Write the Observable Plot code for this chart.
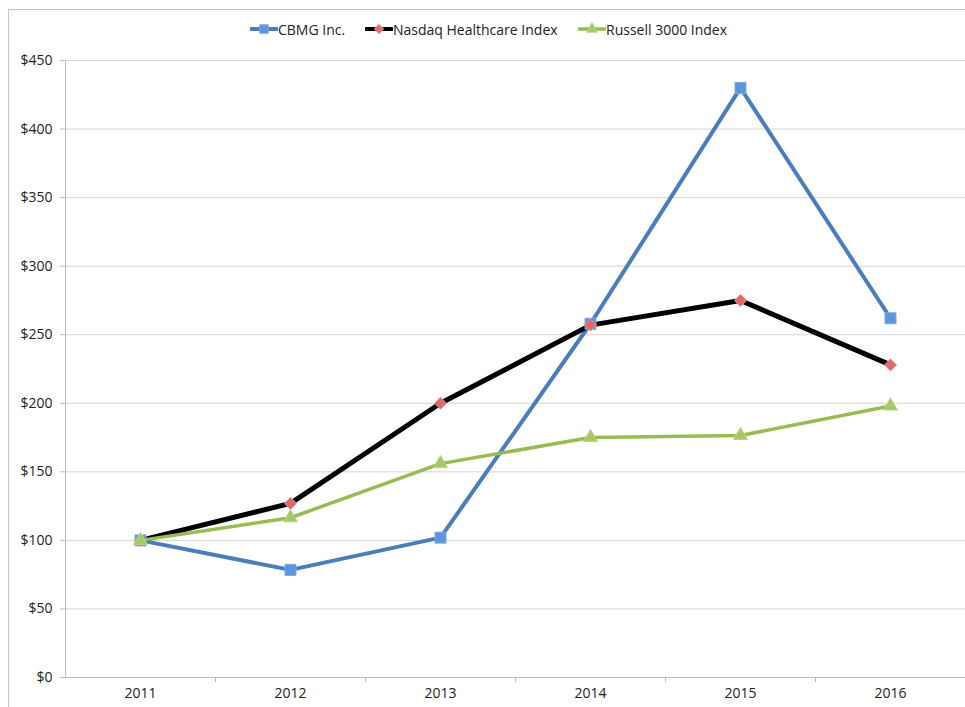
<!DOCTYPE html>
<html>
<head>
<meta charset="utf-8">
<script src="https://cdn.jsdelivr.net/npm/d3@7"></script>
<script src="https://cdn.jsdelivr.net/npm/@observablehq/plot@0.6"></script>
<style>
  html, body { margin: 0; padding: 0; background: #fff; }
  body { width: 965px; height: 707px; position: relative; overflow: hidden; font-family: "Open Sans", "Liberation Sans", sans-serif; }
  #frame { position: absolute; left: 8px; top: 9px; width: 980px; height: 720px; border: 1px solid #c4c4c4; box-sizing: border-box; pointer-events: none; }
  #legend { position: absolute; top: 19px; left: 0; width: 965px; height: 20px; font-size: 14px; color: #222; }
  .item { position: absolute; top: 0; display: flex; align-items: center; white-space: nowrap; }
  #chart { position: absolute; left: 0; top: 0; }
</style>
</head>
<body>
<div id="chart"></div>
<div id="frame"></div>
<div id="legend"></div>
<script>
const years = [2011, 2012, 2013, 2014, 2015, 2016];
const cbmg = [100, 78.5, 102, 258, 430, 262];
const nasdaq = [100, 127, 200, 257, 275, 228];
const russell = [100, 116.5, 156, 175, 176.5, 198];
const yTicks = [0, 50, 100, 150, 200, 250, 300, 350, 400, 450];
const seriesNames = ["CBMG Inc.", "Nasdaq Healthcare Index", "Russell 3000 Index"];

const styles = {
  "CBMG Inc.": {stroke: "#4a7ebb", width: 4, symbol: "square", r: 6.2, fill: "#5d94dc", mstroke: "#7aa9e6", left: 250},
  "Nasdaq Healthcare Index": {stroke: "#000000", width: 5, symbol: "diamond2", r: 5.4, fill: "#e06a6a", mstroke: "#f08a8a", left: 365},
  "Russell 3000 Index": {stroke: "#98bb53", width: 3.5, symbol: "triangle", r: 5.2, fill: "#a6c86a", mstroke: "#b8d67e", left: 578}
};

const values = {"CBMG Inc.": cbmg, "Nasdaq Healthcare Index": nasdaq, "Russell 3000 Index": russell};
const data = seriesNames.flatMap(s => years.map((y, i) => ({series: s, year: y, value: values[s][i]})));
const bounds = years.slice(0, -1).map(y => y + 0.5);

const marks = [
  Plot.gridY(yTicks, {stroke: "#d4d4d4", strokeOpacity: 1, x1: 2010.5, x2: 2016.5}),
  Plot.axisY(yTicks, {label: null, tickFormat: d => "$" + d, tickSize: 5, tickPadding: 8, stroke: "#bdbdbd", fontSize: 14, fill: "#222"}),
  Plot.axisX(years, {label: null, tickFormat: d => String(d), tickSize: 0, tickPadding: 11, fontSize: 14, fill: "#222"}),
  Plot.axisX(bounds, {label: null, tickFormat: () => "", tickSize: 5, stroke: "#bdbdbd"}),
  Plot.ruleX([2010.5], {stroke: "#bdbdbd", y1: 0, y2: 450}),
  Plot.ruleY([0], {stroke: "#bdbdbd", x1: 2010.5, x2: 2016.5})
];
for (const s of seriesNames) {
  const st = styles[s];
  const d = data.filter(e => e.series === s);
  marks.push(Plot.line(d, {x: "year", y: "value", stroke: st.stroke, strokeWidth: st.width, strokeLinejoin: "round", strokeLinecap: "round"}));
}
for (const s of seriesNames) {
  const st = styles[s];
  const d = data.filter(e => e.series === s);
  marks.push(Plot.dot(d, {x: "year", y: "value", symbol: () => st.symbol, r: st.r, fill: st.fill, stroke: st.mstroke, strokeWidth: 1}));
}

const chart = Plot.plot({
  width: 965,
  height: 707,
  marginLeft: 65,
  marginRight: 0,
  marginTop: 60,
  marginBottom: 30,
  style: {fontFamily: "'Open Sans', 'Liberation Sans', sans-serif", background: "#fff", fontSize: "14px"},
  x: {domain: [2010.5, 2016.5], axis: null, label: null},
  y: {domain: [0, 450], axis: null, label: null},
  symbol: {type: "identity"},
  marks
});
document.getElementById("chart").appendChild(chart);

// Legend
const legend = document.getElementById("legend");
const symTypes = {square: d3.symbolSquare, diamond2: d3.symbolDiamond2, triangle: d3.symbolTriangle};
for (const s of seriesNames) {
  const st = styles[s];
  const item = document.createElement("div");
  item.className = "item";
  item.style.left = st.left + "px";
  const w = 28, h = 20;
  const sym = d3.symbol(symTypes[st.symbol], Math.PI * st.r * st.r * 0.6)();
  item.innerHTML = `<svg width="${w}" height="${h}"><line x1="1" x2="${w-1}" y1="${h/2}" y2="${h/2}" stroke="${st.stroke}" stroke-width="${Math.min(st.width,4)}" stroke-linecap="round"/><path d="${sym}" transform="translate(${w/2},${h/2})" fill="${st.fill}" stroke="${st.mstroke}"/></svg><span>${s}</span>`;
  legend.appendChild(item);
}
</script>
</body>
</html>
